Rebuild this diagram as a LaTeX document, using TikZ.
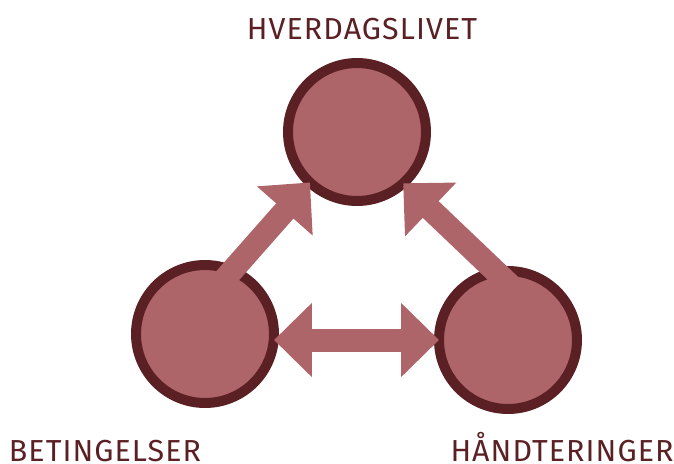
\documentclass[tikz,border=0pt]{standalone}
\usepackage{fontspec}
\setmainfont[LetterSpace=3.5]{Fira Sans}
\usepackage{tikz}
\usetikzlibrary{arrows.meta,calc}
\definecolor{wine}{HTML}{5B2023}
\definecolor{rose}{HTML}{AE656A}

\begin{document}
\begin{tikzpicture}[x=0.02cm,y=-0.02cm,>={Triangle[length=0.76cm,width=1.44cm]},
  ring/.style={circle,draw=wine,fill=rose,line width=0.2cm,minimum size=2.76cm,inner sep=0pt,outer sep=0pt},
  bigarrow/.style={draw=rose,line width=0.46cm},
  lbl/.style={font=\fontsize{17.3}{20}\selectfont,text=wine,anchor=base,inner sep=0pt,text depth=0pt}]
  \useasboundingbox (0,0) rectangle (674,464);
  \node[ring] (top) at (357,132) {};
  \node[ring] (left) at (205,334) {};
  \node[ring] (right) at (508,340) {};
  \coordinate (ltail) at ($(left)+(-12,-19)$);
  \coordinate (rtail) at ($(right)+(25,-33)$);
  \draw[bigarrow,->] (ltail) -- (top.227);
  \draw[bigarrow,->] (rtail) -- (top.312);
  \draw[bigarrow,<->] (left.east |- right.west) -- (right.west);
  \node[lbl] (daily) at (362,39) {HVERDAGSLIVET};
  \node[lbl] (cond) at (105,461) {BETINGELSER};
  \node[lbl] (cope) at (562,461) {HÅNDTERINGER};
\end{tikzpicture}
\end{document}
